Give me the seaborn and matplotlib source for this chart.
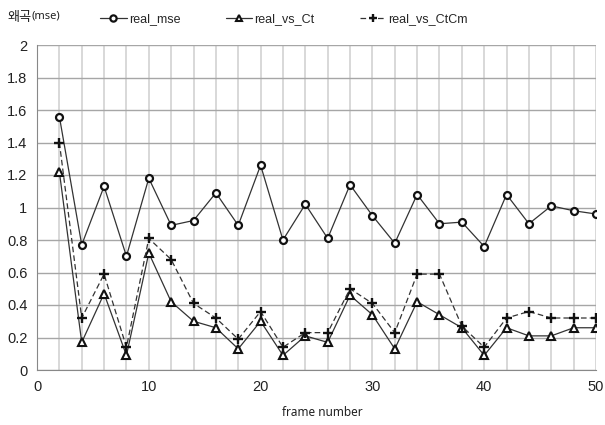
import matplotlib
matplotlib.use("Agg")
import matplotlib.pyplot as plt
import seaborn as sns
import pandas as pd
from matplotlib.ticker import MultipleLocator

frames = [2, 4, 6, 8, 10, 12, 14, 16, 18, 20, 22, 24, 26, 28, 30, 32, 34, 36, 38, 40, 42, 44, 46, 48, 50]
real_mse = [1.56, 0.77, 1.13, 0.70, 1.18, 0.89, 0.92, 1.09, 0.89, 1.26, 0.80, 1.02, 0.81,
            1.14, 0.95, 0.78, 1.08, 0.90, 0.91, 0.76, 1.08, 0.90, 1.01, 0.98, 0.96]
real_vs_Ct = [1.22, 0.17, 0.47, 0.09, 0.72, 0.42, 0.30, 0.26, 0.13, 0.30, 0.09, 0.21, 0.17,
              0.46, 0.34, 0.13, 0.42, 0.34, 0.26, 0.09, 0.26, 0.21, 0.21, 0.26, 0.26]
real_vs_CtCm = [1.40, 0.32, 0.59, 0.14, 0.81, 0.68, 0.41, 0.32, 0.19, 0.36, 0.14, 0.23, 0.23,
                0.50, 0.41, 0.23, 0.59, 0.59, 0.27, 0.14, 0.32, 0.36, 0.32, 0.32, 0.32]
series_names = ["real_mse", "real_vs_Ct", "real_vs_CtCm"]

sns.set_style("white")
plt.rcParams['font.family'] = ['Liberation Sans', 'Noto Sans CJK KR', 'DejaVu Sans']

df = pd.DataFrame({"frame": frames, "real_mse": real_mse,
                   "real_vs_Ct": real_vs_Ct, "real_vs_CtCm": real_vs_CtCm})

fig = plt.figure(figsize=(6.05, 4.25), dpi=100)
ax = fig.add_axes([37/605, 1 - 370/425, (596-37)/605, (370-45)/425])

styles = {
    "real_mse": dict(marker="o", linestyle="-", markersize=5.0, markerfacecolor="white",
                     markeredgewidth=1.6),
    "real_vs_Ct": dict(marker="^", linestyle="-", markersize=5.2, markerfacecolor="white",
                       markeredgewidth=1.5),
    "real_vs_CtCm": dict(marker="+", linestyle=(0, (4.5, 2.5)), markersize=6.5,
                         markeredgewidth=1.7, markerfacecolor="black"),
}
handles = []
for name in series_names:
    n_before = len(ax.lines)
    sns.lineplot(data=df, x="frame", y=name, ax=ax, color="#222222", linewidth=0.9,
                 label=name, zorder=3, legend=False)
    line = ax.lines[n_before]
    line.set(color="#333333", markeredgecolor="#111111", **styles[name])
    handles.append(line)

ax.set_xlim(0, 50)
ax.set_ylim(0, 2)
ax.xaxis.set_major_locator(MultipleLocator(10))
ax.xaxis.set_minor_locator(MultipleLocator(2))
yt = [i * 0.2 for i in range(11)]
ax.set_yticks(yt)
ax.set_yticklabels([f"{v:g}" for v in yt])
ax.set_ylim(0, 2)
ax.grid(True, which="both", axis="x", color="#d6d6d6", linewidth=1.3)
ax.grid(True, which="major", axis="y", color="#a6a6a6", linewidth=1.0)
ax.set_axisbelow(True)
for s in ["top", "right"]:
    ax.spines[s].set_visible(False)
ax.spines["left"].set_color("#888888")
ax.spines["bottom"].set_color("#888888")
ax.tick_params(axis="both", which="major", labelsize=10.5, length=4, color="#888888",
               direction="out", pad=3, labelcolor="#222222")
ax.tick_params(axis="x", which="minor", length=0)
ax.set_xlabel("")
ax.set_ylabel("")
fig.text(322/605, 1 - 413/425, "frame number", fontsize=8.5, family=["Noto Sans"],
         ha="center", va="center", color="#222222")
fig.text(7/605, 1 - 17/425, "왜곡", fontsize=9.5, family=['Noto Sans CJK KR'], va="center",
         color="#222222")
fig.text(32/605, 1 - 16/425, "(mse)", fontsize=8, family=["Noto Sans"], va="center",
         color="#222222")

ax.legend(handles=handles, labels=series_names, loc="center left",
          bbox_to_anchor=(89/605, 1 - 19/425), bbox_transform=fig.transFigure,
          ncol=3, frameon=False, fontsize=9, columnspacing=3.6, handlelength=2.1,
          handletextpad=0.2, markerscale=0.9)

fig.savefig("out.png", dpi=100)
